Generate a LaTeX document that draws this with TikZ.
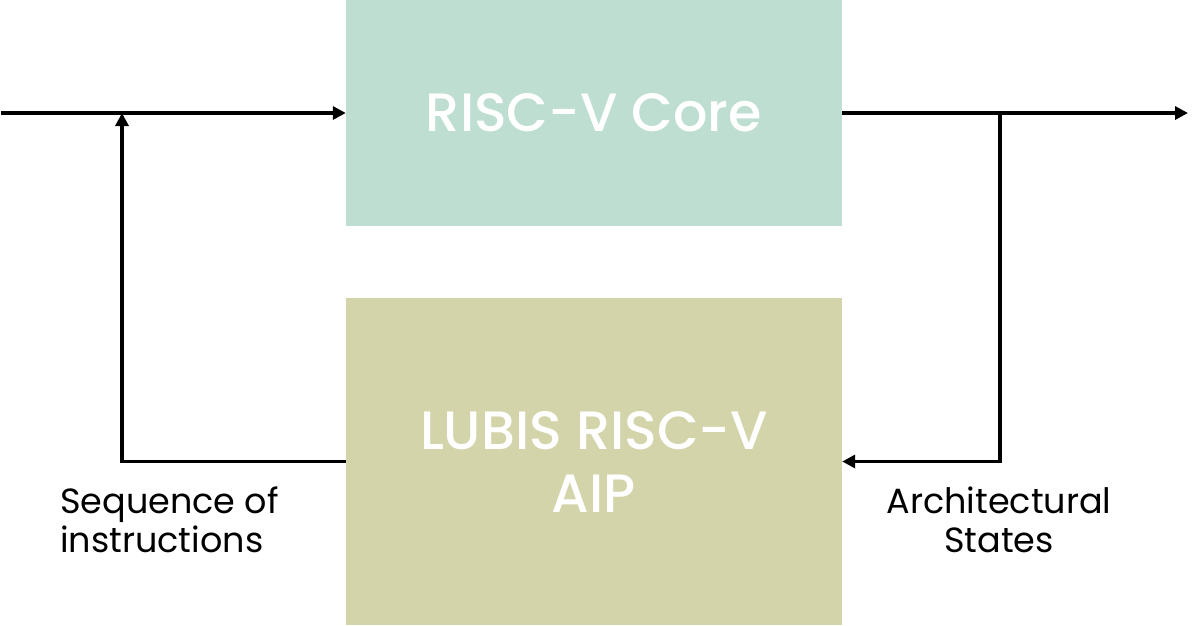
\documentclass[tikz,border=0pt]{standalone}
\usepackage{fontspec}
\setmainfont{Poppins}
\newfontfamily\boxfont{Poppins Medium}
\usetikzlibrary{arrows.meta}
\definecolor{coreC}{RGB}{189,222,209}
\definecolor{aipC}{RGB}{211,212,170}
\begin{document}
\begin{tikzpicture}[x=1pt,y=-1pt,
  blockbox/.style={draw=none,rectangle,inner sep=0pt,minimum width=496pt,text=white,align=center,font=\boxfont\fontsize{54}{63}\selectfont},
  conn/.style={line width=3.5pt,draw=black},
  tip/.style={-{Triangle[length=13pt,width=13pt]}},
  lbl/.style={inner sep=0pt,font=\fontsize{35}{39}\selectfont}]
\useasboundingbox (0,0) rectangle (1200,625);
\node[blockbox,fill=coreC,minimum height=226pt] (core) at (594,113) {RISC-V Core};
\node[blockbox,fill=aipC,minimum height=327pt] (aip) at (594,461.5) {LUBIS RISC-V\\AIP};
\coordinate (in) at (1,113);
\coordinate (out) at (1188,113);
\coordinate (tl) at (122,113);
\coordinate (tr) at (1000,113);
\draw[conn,tip] (in) -- (core.west);
\draw[conn,tip] (core.east) -- (out);
\draw[conn,tip,line join=miter] (aip.west) -| (tl);
\draw[conn,tip,line join=miter] (tr) |- (aip.east);
\node[lbl,anchor=base west,align=left] (seq) at (60,552) {Sequence of\\instructions};
\node[lbl,anchor=base,align=center] (arch) at (999,552) {Architectural\\States};
\end{tikzpicture}
\end{document}
